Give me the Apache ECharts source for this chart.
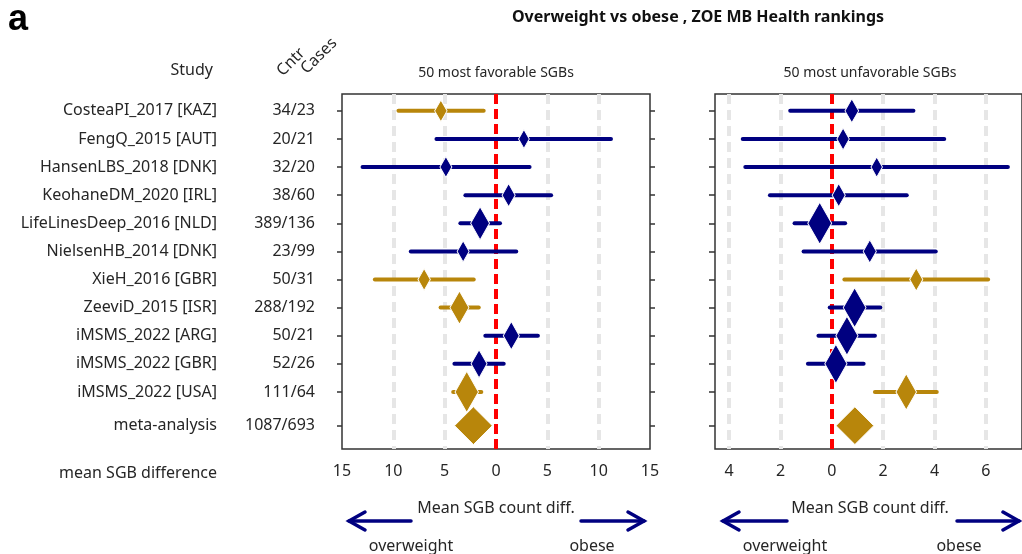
<!DOCTYPE html>
<html>
<head>
<meta charset="utf-8">
<script src="https://cdn.jsdelivr.net/npm/echarts@6/dist/echarts.min.js"></script>
<style>
html,body{margin:0;padding:0;background:#fff;}
#chart{width:1022px;height:554px;}
</style>
</head>
<body>
<div id="chart"></div>
<script>
// ---------- data ----------
const studies = ['CosteaPI_2017 [KAZ]','FengQ_2015 [AUT]','HansenLBS_2018 [DNK]','KeohaneDM_2020 [IRL]',
  'LifeLinesDeep_2016 [NLD]','NielsenHB_2014 [DNK]','XieH_2016 [GBR]','ZeeviD_2015 [ISR]',
  'iMSMS_2022 [ARG]','iMSMS_2022 [GBR]','iMSMS_2022 [USA]','meta-analysis'];
const counts = ['34/23','20/21','32/20','38/60','389/136','23/99','50/31','288/192','50/21','52/26','111/64','1087/693'];
const rowPos = [1,2,3,4,5,6,7,8,9,10,11,12.2];

// 50 most favorable SGBs
const favMean = [-5.37, 2.72, -4.88, 1.23, -1.55, -3.2, -7.0, -3.56, 1.49, -1.65, -2.85, -2.2];
const favLo   = [-9.5, -5.8, -13.0, -2.98, -3.47, -8.3, -11.8, -5.4, -1.04, -4.05, -4.17, null];
const favHi   = [-1.2, 11.2, 3.27, 5.37, 0.39, 1.97, -2.17, -1.68, 4.08, 0.75, -1.43, null];
const favWeight = [0.52, 0.45, 0.5, 0.55, 0.79, 0.5, 0.52, 0.79, 0.67, 0.67, 0.98, 0.9];
const favSig  = [1,0,0,0,0,0,1,1,0,0,1,1];

// 50 most unfavorable SGBs
const unfMean = [0.78, 0.44, 1.75, 0.27, -0.47, 1.48, 3.29, 0.89, 0.59, 0.16, 2.9, 0.9];
const unfLo   = [-1.62, -3.47, -3.37, -2.41, -1.45, -1.1, 0.49, -0.08, -0.52, -0.93, 1.68, null];
const unfHi   = [3.18, 4.38, 6.86, 2.92, 0.52, 4.05, 6.09, 1.89, 1.68, 1.24, 4.09, null];
const unfWeight = [0.57, 0.52, 0.48, 0.55, 1.0, 0.55, 0.55, 0.95, 0.93, 0.93, 0.86, 0.9];
const unfSig  = [0,0,0,0,0,0,1,0,0,0,1,1];

const favTicks = [-15,-10,-5,0,5,10,15];
const unfTicks = [-4,-2,0,2,4,6];

// ---------- styling ----------
const GOLD = '#b8860b', NAVY = '#000080', TXT = '#262626';
const FONT = '"Noto Sans", "Open Sans", sans-serif';
const MAXH = 42;

function idxOf(v){ for(let i=0;i<rowPos.length;i++){ if(Math.abs(rowPos[i]-v)<0.01) return i; } return -1; }

const yBase = {type:'value', inverse:true, min:0.4, max:13.03, splitLine:{show:false},
  axisLine:{show:false, onZero:false}};

function xAxisFor(grid, min, max, ticks){
  return {type:'value', gridIndex:grid, min:min, max:max,
    axisLine:{show:false, onZero:false}, axisTick:{show:false}, splitLine:{show:false},
    axisLabel:{customValues:ticks, formatter:v=>String(Math.abs(v)), color:TXT, fontSize:16, fontFamily:FONT, margin:14}};
}

function gridSeries(xi, yi, ticks, min, max){
  const lines = ticks.filter(t=>t!==0 && t>min && t<max).map(t=>({xAxis:t}));
  return [{
    type:'line', xAxisIndex:xi, yAxisIndex:yi, data:[], z:1, silent:true,
    markLine:{z:1, silent:true, symbol:'none', animation:false, label:{show:false},
      lineStyle:{color:'#e6e6e6', width:4, type:[10,6]}, data:lines}
  },{
    type:'line', xAxisIndex:xi, yAxisIndex:yi, data:[], z:2, silent:true,
    markLine:{z:2, silent:true, symbol:'none', animation:false, label:{show:false},
      lineStyle:{color:'#ff0000', width:4, type:[10,5]}, data:[{xAxis:0}]}
  }];
}

function whiskerSeries(xi, yi, lo, hi, sig){
  const data = [];
  lo.forEach((l,i)=>{ if(l!==null) data.push([l, hi[i], rowPos[i], sig[i]]); });
  return {type:'custom', xAxisIndex:xi, yAxisIndex:yi, z:3, silent:true, clip:false,
    encode:{x:[0,1], y:2},
    renderItem:function(params, api){
      const p1 = api.coord([api.value(0), api.value(2)]);
      const p2 = api.coord([api.value(1), api.value(2)]);
      return {type:'rect', shape:{x:p1[0]-2, y:p1[1]-2, width:(p2[0]-p1[0])+4, height:4, r:2},
        style:{fill: api.value(3) ? GOLD : NAVY}};
    },
    data:data};
}

function diamondSeries(xi, yi, mean, weight, sig){
  return {type:'scatter', xAxisIndex:xi, yAxisIndex:yi, z:4, silent:true, symbol:'diamond',
    data: mean.map((m,i)=>{
      const h = weight[i]*MAXH;
      const w = (i===mean.length-1) ? h : h*0.57;
      return {value:[m, rowPos[i]], symbolSize:[w,h],
        itemStyle:{color: sig[i] ? GOLD : NAVY, opacity:1, borderColor:'#fff', borderWidth:1}};
    })};
}

const chart = echarts.init(document.getElementById('chart'), null, {renderer:'canvas'});

const labelRich = {
  s:{width:160, align:'right', color:TXT, fontSize:16, fontFamily:FONT},
  c:{width:98, align:'right', color:TXT, fontSize:16, fontFamily:FONT}
};

const option = {
  animation:false,
  backgroundColor:'#fff',
  textStyle:{fontFamily:FONT},
  grid:[
    {left:342, top:94, width:308, height:355, show:true, borderColor:'#333', borderWidth:1.5, containLabel:false},
    {left:715, top:94, width:308, height:355, show:true, borderColor:'#333', borderWidth:1.5, containLabel:false}
  ],
  xAxis:[
    xAxisFor(0, -15, 15, favTicks),
    xAxisFor(1, -4.55, 7.41, unfTicks)
  ],
  yAxis:[
    Object.assign({}, yBase, {gridIndex:0, position:'left',
      axisTick:{show:true, customValues:rowPos, length:5, lineStyle:{color:'#333', width:1.5}},
      axisLabel:{customValues:rowPos, margin:27, align:'right', rich:labelRich,
        formatter:v=>{const i=idxOf(v); return i>=0?('{s|'+studies[i]+'}{c|'+counts[i]+'}'):'';}}}),
    Object.assign({}, yBase, {gridIndex:0, position:'right',
      axisTick:{show:true, customValues:rowPos, length:5, lineStyle:{color:'#333', width:1.5}},
      axisLabel:{show:false}}),
    Object.assign({}, yBase, {gridIndex:1, position:'left',
      axisTick:{show:true, customValues:rowPos, length:6, lineStyle:{color:'#333', width:1.5}},
      axisLabel:{show:false}})
  ],
  series:[
    ...gridSeries(0, 0, favTicks, -15, 15),
    whiskerSeries(0, 0, favLo, favHi, favSig),
    diamondSeries(0, 0, favMean, favWeight, favSig),
    ...gridSeries(1, 2, unfTicks, -4.55, 7.41),
    whiskerSeries(1, 2, unfLo, unfHi, unfSig),
    diamondSeries(1, 2, unfMean, unfWeight, unfSig)
  ],
  graphic:[]
};

function txt(x, y, s, opt){
  return Object.assign({type:'text', x:x, y:y, silent:true,
    style:Object.assign({text:s, fill:TXT, font:'16px '+FONT, align:'center', verticalAlign:'middle'}, opt||{})});
}
function arrow(x1, x2, y){
  const dir = x2 > x1 ? 1 : -1;
  return {type:'group', silent:true, children:[
    {type:'line', shape:{x1:x1, y1:y, x2:x2, y2:y}, style:{stroke:NAVY, lineWidth:3.5, lineCap:'round'}},
    {type:'polyline', shape:{points:[[x2-dir*16, y-9],[x2, y],[x2-dir*16, y+9]]},
      style:{stroke:NAVY, lineWidth:3.5, lineCap:'round', lineJoin:'miter', fill:null}}
  ]};
}

const g = option.graphic;
g.push(txt(18, 20, 'a', {font:'bold 36px "Liberation Sans", Arial, sans-serif', fill:'#000'}));
g.push(txt(698, 17, 'Overweight vs obese , ZOE MB Health rankings', {font:'bold 16px '+FONT, fill:'#111'}));
g.push(txt(496, 73, '50 most favorable SGBs', {font:'14px '+FONT}));
g.push(txt(870, 73, '50 most unfavorable SGBs', {font:'14px '+FONT}));
g.push(txt(213, 70, 'Study', {align:'right'}));
g.push(Object.assign(txt(291, 62, 'Cntr'), {rotation:Math.PI/4}));
g.push(Object.assign(txt(319, 56, 'Cases'), {rotation:Math.PI/4}));
g.push(txt(217, 473, 'mean SGB difference', {align:'right'}));
g.push(txt(496, 508, 'Mean SGB count diff.'));
g.push(txt(870, 508, 'Mean SGB count diff.'));
g.push(arrow(411, 349, 521));
g.push(arrow(581, 644, 521));
g.push(arrow(787, 723, 521));
g.push(arrow(957, 1019, 521));
g.push(txt(411, 546, 'overweight'));
g.push(txt(592, 546, 'obese'));
g.push(txt(785, 546, 'overweight'));
g.push(txt(959, 546, 'obese'));

chart.setOption(option);
</script>
</body>
</html>
